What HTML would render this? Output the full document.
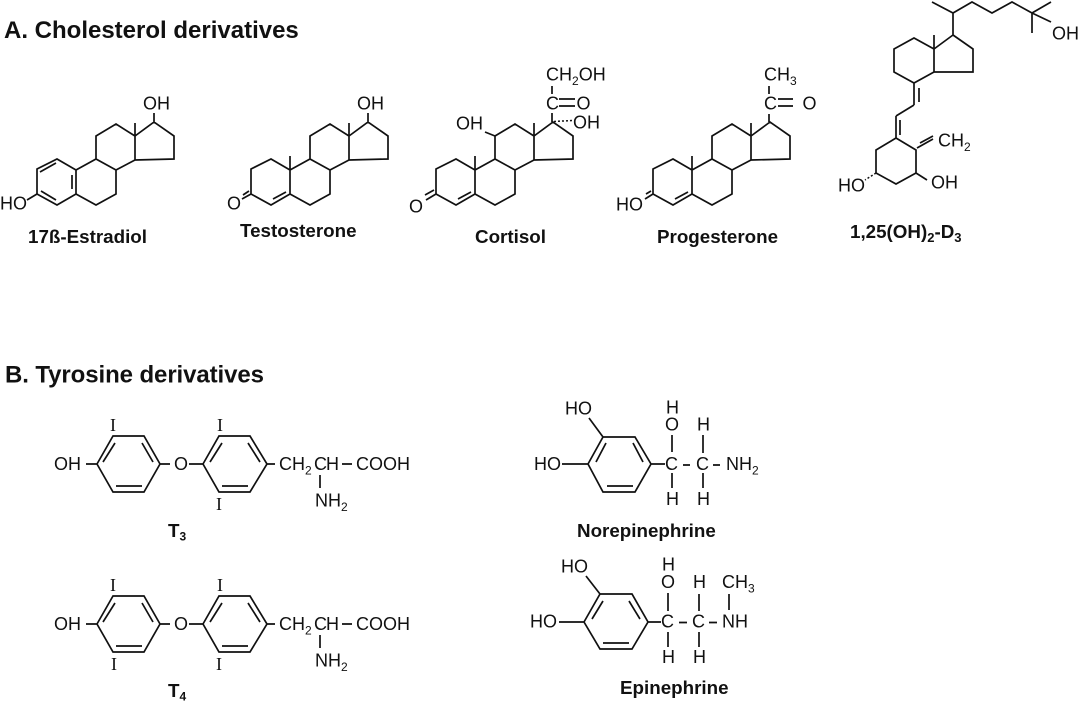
<!DOCTYPE html>
<html><head><meta charset="utf-8"><style>
html,body{margin:0;padding:0;background:#fff}
svg{display:block}
.l{fill:none;stroke:#111;stroke-width:1.7;stroke-linejoin:miter;stroke-linecap:butt}
text{font-family:"Liberation Sans",sans-serif;font-size:18px;fill:#111}
.b{font-weight:bold;font-size:18.8px}
.h{font-weight:bold;font-size:24px}
.s{font-family:"Liberation Serif",serif;font-size:18px}
</style></head><body>
<svg width="1080" height="722" viewBox="0 0 1080 722" xmlns="http://www.w3.org/2000/svg">
<rect width="1080" height="722" fill="#fff"/>
<text class="h" x="4" y="38">A. Cholesterol derivatives</text>
<text class="h" x="5" y="382.5" textLength="259">B. Tyrosine derivatives</text>

<!-- Estradiol -->
<g transform="translate(-214 0)"><path class="l" d="M251 169L271 159L290 170L290 194L271 205L251 194Z M290 170L310 159L330 170L330 194L310 205L290 194 M310 159L310 136L330 124L349 136L349 160L330 170 M349 136L368 122L388 136L388 159L349 160 M349 136L349 123 M368 122L368 113"/></g>
<path class="l" d="M40 172L56 163 M72 175L72 189 M41 191L56 200 M37 194L27 200"/>
<text x="143" y="109.5">OH</text>
<text x="0" y="209.5">HO</text>
<text class="b" x="28" y="243">17ß-Estradiol</text>

<!-- Testosterone -->
<path class="l" d="M251 169L271 159L290 170L290 194L271 205L251 194Z M290 170L310 159L330 170L330 194L310 205L290 194 M310 159L310 136L330 124L349 136L349 160L330 170 M349 136L368 122L388 136L388 159L349 160 M349 136L349 123 M368 122L368 113 M290 170L290 156 M273 199L286 192 M251 194L242 199 M249 191L243 195"/>
<text x="357" y="109.5">OH</text>
<text x="227" y="209.5">O</text>
<text class="b" x="240" y="237">Testosterone</text>

<!-- Cortisol -->
<g transform="translate(185 0)"><path class="l" d="M251 169L271 159L290 170L290 194L271 205L251 194Z M290 170L310 159L330 170L330 194L310 205L290 194 M310 159L310 136L330 124L349 136L349 160L330 170 M349 136L368 122L388 136L388 159L349 160 M349 136L349 123 M290 170L290 156 M273 199L286 192 M251 194L241 200 M249 190L240 195"/></g>
<path class="l" d="M495 136L485 132 M552 122L552 113 M552 86L552 94 M559 99L575 99 M559 106L575 106"/>
<path d="M554 121.5L572 120.5" fill="none" stroke="#111" stroke-width="1.5" stroke-dasharray="2 2"/>
<text x="456" y="129.5">OH</text>
<text x="546" y="80.5">CH<tspan font-size="12" dy="4.5">2</tspan><tspan dy="-4.5">OH</tspan></text>
<text x="546" y="109.5">C</text>
<text x="576.5" y="109.5">O</text>
<text x="573" y="128.5">OH</text>
<text x="409" y="212.5">O</text>
<text class="b" x="475" y="243">Cortisol</text>

<!-- Progesterone -->
<g transform="translate(402 0)"><path class="l" d="M251 169L271 159L290 170L290 194L271 205L251 194Z M290 170L310 159L330 170L330 194L310 205L290 194 M310 159L310 136L330 124L349 136L349 160L330 170 M349 136L349 123 M349 136L368 122L388 136L388 159L349 160 M290 170L290 156 M273 199L286 192 M251 194L243 199 M249 191L244 194"/></g>
<path class="l" d="M769 122L769 114 M769 86L769 94 M778 99L793 99 M778 106L793 106"/>
<text x="764" y="80.5">CH<tspan font-size="12" dy="4.5">3</tspan></text>
<text x="764" y="109.5">C</text>
<text x="802.5" y="109.5">O</text>
<text x="616" y="210.5">HO</text>
<text class="b" x="657" y="243">Progesterone</text>

<!-- Vitamin D -->
<path class="l" d="M932 2L953 13L972 2L992 13L1012 2L1032 13L1051 2 M1032 13L1032 33 M1032 13L1051 22 M953 13L953 35 M953 35L973 49L973 72L934 72L934 49L953 35 M934 49L934 35 M934 49L914 38L894 49L894 72L914 83L934 72 M914 83L914 105 M919 88L919 102 M914 105L896 116 M896 116L896 138 M900 120L900 135 M896 138L916 150L916 173L896 184L876 173L876 150L896 138 M917 148L933 139 M920 143L933 136 M916 173L927 180"/>
<path d="M876 173L865 180" fill="none" stroke="#111" stroke-width="1.5" stroke-dasharray="2 2"/>
<text x="1052" y="39.5">OH</text>
<text x="938" y="146.5">CH<tspan font-size="12" dy="4.5">2</tspan></text>
<text x="931" y="188.5">OH</text>
<text x="838" y="191.5">HO</text>
<text class="b" x="850" y="238">1,25(OH)<tspan font-size="13" dy="4">2</tspan><tspan dy="-4">-D</tspan><tspan font-size="13" dy="4">3</tspan></text>

<!-- T3 -->
<path class="l" d="M86 464L97 464 M97 464L113 436L144 436L160 464L144 492L113 492Z M103 462L115 443 M142 443L153 462 M116 486L142 486 M160 464L170 464 M189 464L203 464 M203 464L219 436L250 436L267 464L250 492L219 492Z M210 462L222 443 M248 443L260 462 M222 486L248 486 M267 464L275 464 M342 464L352 464 M320 475L320 488"/>
<text x="54" y="470">OH</text><text x="174" y="470">O</text>
<text x="279" y="470">CH<tspan font-size="12" dy="4.5">2</tspan></text>
<text x="314" y="470" textLength="25">CH</text><text x="356" y="470" textLength="54">COOH</text>
<text x="315" y="506.5">NH<tspan font-size="12" dy="4.5">2</tspan></text>
<text class="s" x="110" y="431">I</text><text class="s" x="217" y="431">I</text><text class="s" x="216" y="510">I</text>
<text class="b" x="168" y="537">T<tspan font-size="12" dy="3.5">3</tspan></text>

<!-- T4 -->
<g transform="translate(0 160)"><path class="l" d="M86 464L97 464 M97 464L113 436L144 436L160 464L144 492L113 492Z M103 462L115 443 M142 443L153 462 M116 486L142 486 M160 464L170 464 M189 464L203 464 M203 464L219 436L250 436L267 464L250 492L219 492Z M210 462L222 443 M248 443L260 462 M222 486L248 486 M267 464L275 464 M342 464L352 464 M320 475L320 488"/></g>
<text x="54" y="630">OH</text><text x="174" y="630">O</text>
<text x="279" y="630">CH<tspan font-size="12" dy="4.5">2</tspan></text>
<text x="314" y="630" textLength="25">CH</text><text x="356" y="630" textLength="54">COOH</text>
<text x="315" y="666.5">NH<tspan font-size="12" dy="4.5">2</tspan></text>
<text class="s" x="110" y="591">I</text><text class="s" x="217" y="591">I</text><text class="s" x="111" y="670">I</text><text class="s" x="216" y="670">I</text>
<text class="b" x="168" y="697">T<tspan font-size="12" dy="3.5">4</tspan></text>

<!-- Norepinephrine -->
<path class="l" d="M588 464L603 437L635 437L651 464L635 492L603 492Z M596 462L606 443 M633 443L643 462 M607 486L633 486 M589 418L603 437 M562 464L588 464 M651 464L665 464 M683 465L690 465 M713 465L720 465 M672 435L672 452 M672 473L672 488 M703 435L703 453 M703 473L703 488"/>
<text x="565" y="414.5">HO</text><text x="534" y="470">HO</text>
<text x="665" y="470">C</text><text x="696" y="470">C</text>
<text x="726" y="470">NH<tspan font-size="12" dy="4.5">2</tspan></text>
<text x="666" y="413.5">H</text><text x="665" y="430.5">O</text><text x="697" y="430.5">H</text>
<text x="666" y="505">H</text><text x="697" y="505">H</text>
<text class="b" x="577" y="537">Norepinephrine</text>

<!-- Epinephrine -->
<path class="l" d="M584 622L600 594L632 594L648 622L632 649L600 649Z M592 619L603 601 M629 601L640 619 M603 643L629 643 M586 576L600 594 M559 622L584 622 M648 622L661 622 M679 622.5L687 622.5 M709 622.5L717 622.5 M729 594L729 610 M668 593L668 611 M668 632L668 647 M699 594L699 611 M699 632L699 647"/>
<text x="561" y="572.5">HO</text><text x="530" y="627.5">HO</text>
<text x="661" y="627.5">C</text><text x="692" y="627.5">C</text>
<text x="722" y="627.5">NH</text>
<text x="722" y="588">CH<tspan font-size="12" dy="4.5">3</tspan></text>
<text x="662" y="570.5">H</text><text x="661" y="588">O</text><text x="693" y="588">H</text>
<text x="662" y="663">H</text><text x="693" y="663">H</text>
<text class="b" x="620" y="694">Epinephrine</text>
</svg>
</body></html>
